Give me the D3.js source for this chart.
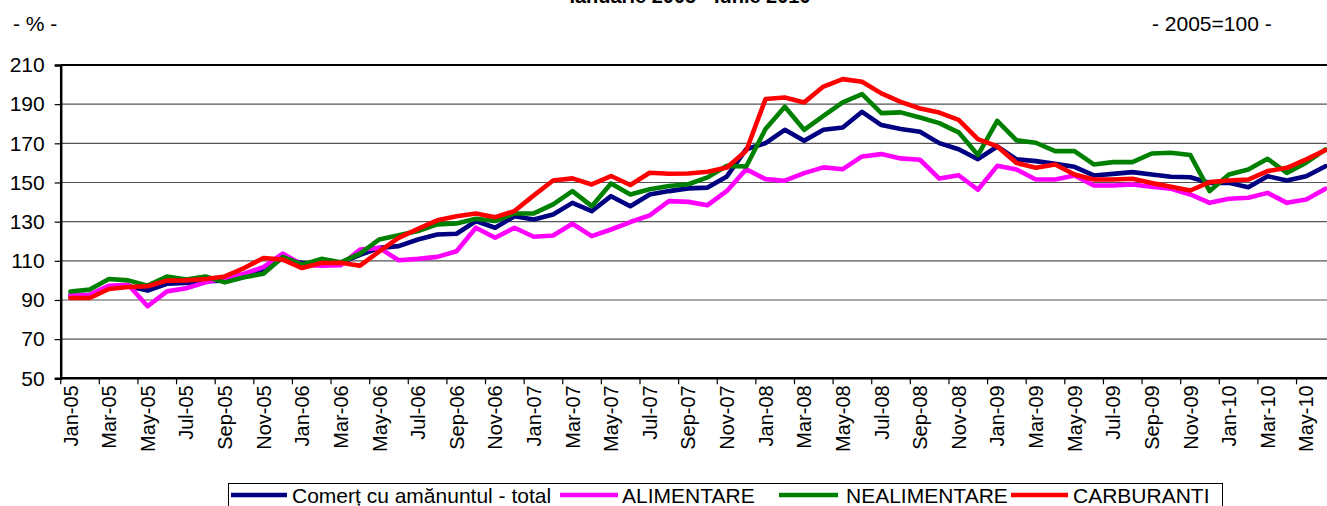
<!DOCTYPE html>
<html>
<head>
<meta charset="utf-8">
<script src="https://cdn.jsdelivr.net/npm/d3@7"></script>
<style>
html,body{margin:0;padding:0;background:#fff;}
svg{display:block;font-family:"Liberation Sans",Arial,sans-serif;}
</style>
</head>
<body>
<svg id="chart" width="1327" height="506"></svg>
<script>
const months = ["Jan-05","Feb-05","Mar-05","Apr-05","May-05","Jun-05","Jul-05","Aug-05","Sep-05","Oct-05","Nov-05","Dec-05",
"Jan-06","Feb-06","Mar-06","Apr-06","May-06","Jun-06","Jul-06","Aug-06","Sep-06","Oct-06","Nov-06","Dec-06",
"Jan-07","Feb-07","Mar-07","Apr-07","May-07","Jun-07","Jul-07","Aug-07","Sep-07","Oct-07","Nov-07","Dec-07",
"Jan-08","Feb-08","Mar-08","Apr-08","May-08","Jun-08","Jul-08","Aug-08","Sep-08","Oct-08","Nov-08","Dec-08",
"Jan-09","Feb-09","Mar-09","Apr-09","May-09","Jun-09","Jul-09","Aug-09","Sep-09","Oct-09","Nov-09","Dec-09",
"Jan-10","Feb-10","Mar-10","Apr-10","May-10","Jun-10"];

const total = [92.2,92.2,96.6,97,94.8,98.3,98.7,99.5,100,102,
105.1,111.4,108.9,108.5,109,113,116.6,117.5,120.9,123.4,
123.8,130.3,126.9,132.8,131.1,133.7,139.6,135.4,143,137.9,
143.9,145.6,147,147.4,153.1,167,170.1,176.9,171.3,176.9,
178.1,186.1,179.3,177.3,175.9,170.1,167,161.9,168.4,161.8,
160.9,159.5,158,153.6,154.4,155.3,154.1,152.9,152.7,149.8,
149.8,147.6,153.2,151,153.2,158.3];

const alimentare = [92.2,92.7,97.3,97.8,86.8,94.4,96,99,101.2,103.4,
106.8,113.7,108,107.5,107.7,115.7,116.6,110.3,111,112,
114.9,126.9,121.8,126.9,122.3,122.9,128.9,122.6,126,129.8,
133.2,140.5,140.1,138.4,145.7,156.8,151.7,150.9,154.8,157.7,
156.8,163.3,164.5,162.3,161.6,152,153.7,146.3,158.5,156.6,
151.5,151.5,153.6,148.5,148.5,149,147.8,146.8,143.9,139.6,
141.7,142.2,144.7,139.6,141.3,146.8];

const nealimentare = [94.3,95.3,100.7,100,97.3,102,100.4,102,99,101.6,
103.4,112,108,111,109.2,113.7,120.9,123.1,125.2,128.6,
129.1,131.5,130.3,134.2,134.2,138.8,145.6,137.9,149.5,143.9,
146.5,148.2,149.1,152.6,158.5,158.2,177.3,188.7,176.9,184,
190.9,195.1,185.4,185.8,183.2,180.3,175.6,164,181.5,171.5,
170.3,166,166,159.2,160.4,160.4,164.8,165.2,164,145.6,
154.1,156.6,162.1,154.9,160.1,166.9];

const carburanti = [91,91,95.6,96.6,97,99.9,100,100.7,102,106.3,
111.4,110.6,106.3,108.9,109,107.5,114.8,121.7,126.3,130.7,
132.8,134.2,132.3,135.4,143.4,151,152.1,149,153.3,148.7,
155,154.5,154.6,155.5,157.7,166.2,192.6,193.4,190.9,199,
202.8,201.4,195.5,191.2,187.8,185.7,182,172.1,168.4,160,
157.5,159.2,154.1,151.5,151.5,151.9,149.8,147.8,145.9,150.2,
151,151.5,155.8,157.5,161.8,166.5];

const seriesNames = ["Comerț cu amănuntul - total","ALIMENTARE","NEALIMENTARE","CARBURANTI"];
const seriesColors = ["#000080","#FF00FF","#008000","#FF0000"];
const yTicks = [50,70,90,110,130,150,170,190,210];
const titleText = "Ianuarie 2005 - Iunie 2010";
const unitLeft = "- % -";
const unitRight = "- 2005=100 -";

const seriesData = [total, alimentare, nealimentare, carburanti];

const svg = d3.select("#chart");
svg.append("rect").attr("width",1327).attr("height",506).attr("fill","#fff");

const x0 = 60.7, x1 = 60.7 + 66*19.31;
const x = d3.scaleBand().domain(months).range([x0, x1]).padding(0);
const y = d3.scaleLinear().domain([50,210]).range([378.3, 65]);
const cx = m => x(m) + x.bandwidth()/2;

// title & units
svg.append("text").attr("x",690).attr("y",3).attr("text-anchor","middle")
  .attr("font-size",20).attr("font-weight","bold").text(titleText);
svg.append("text").attr("x",13).attr("y",31).attr("font-size",21).text(unitLeft);
svg.append("text").attr("x",1152).attr("y",31).attr("font-size",21).text(unitRight);

// gridlines
svg.append("g").selectAll("line").data(yTicks.filter(v=>v>50 && v<210)).join("line")
  .attr("x1",x0).attr("x2",1327).attr("y1",d=>y(d)).attr("y2",d=>y(d))
  .attr("stroke","#555").attr("stroke-width",1.2);

// top border
svg.append("line").attr("x1",x0).attr("x2",1327).attr("y1",y(210)).attr("y2",y(210))
  .attr("stroke","#000").attr("stroke-width",2.2);

// y axis
const yAxis = d3.axisLeft(y).tickValues(yTicks).tickSize(6).tickPadding(10);
const gy = svg.append("g").attr("transform",`translate(${x0},0)`).call(yAxis);
gy.select(".domain").attr("stroke","#000").attr("stroke-width",2.5);
gy.selectAll(".tick line").attr("stroke","#000").attr("stroke-width",1.2);
gy.selectAll(".tick text").attr("font-size",21).attr("fill","#000")
  .attr("font-family","'Liberation Sans',Arial,sans-serif");

// x axis: ticks at category boundaries every 2 months
const boundaries = months.filter((m,i)=>i%2===0);
svg.append("g").selectAll("line").data(boundaries).join("line")
  .attr("x1",d=>x(d)).attr("x2",d=>x(d)).attr("y1",y(50)).attr("y2",y(50)+6)
  .attr("stroke","#000").attr("stroke-width",1.2);
svg.append("line").attr("x1",x0).attr("x2",1327).attr("y1",y(50)).attr("y2",y(50))
  .attr("stroke","#000").attr("stroke-width",2.5);

svg.append("g").selectAll("text").data(boundaries).join("text")
  .attr("transform",d=>`translate(${cx(d)},${y(50)+7}) rotate(-90)`)
  .attr("text-anchor","end").attr("dy","0.36em").attr("font-size",20).text(d=>d);

// lines
const line = d3.line().x((d,i)=>cx(months[i])).y(d=>y(d));
seriesData.forEach((s,k)=>{
  svg.append("path").datum(s).attr("d",line).attr("fill","none")
    .attr("stroke",seriesColors[k]).attr("stroke-width",4.6)
    .attr("stroke-linejoin","round").attr("stroke-linecap","round");
});

// legend
const lg = svg.append("g");
lg.append("rect").attr("x",228.5).attr("y",483.5).attr("width",994).attr("height",40)
  .attr("fill","#fff").attr("stroke","#000").attr("stroke-width",1);
const legPos = [[231,287,292],[560,618,622],[779,838,846],[1011,1068,1073]];
seriesNames.forEach((n,k)=>{
  const p = legPos[k];
  lg.append("line").attr("x1",p[0]).attr("x2",p[1]).attr("y1",495).attr("y2",495)
    .attr("stroke",seriesColors[k]).attr("stroke-width",4.6);
  lg.append("text").attr("x",p[2]).attr("y",503).attr("font-size",21).text(n);
});
</script>
</body>
</html>
